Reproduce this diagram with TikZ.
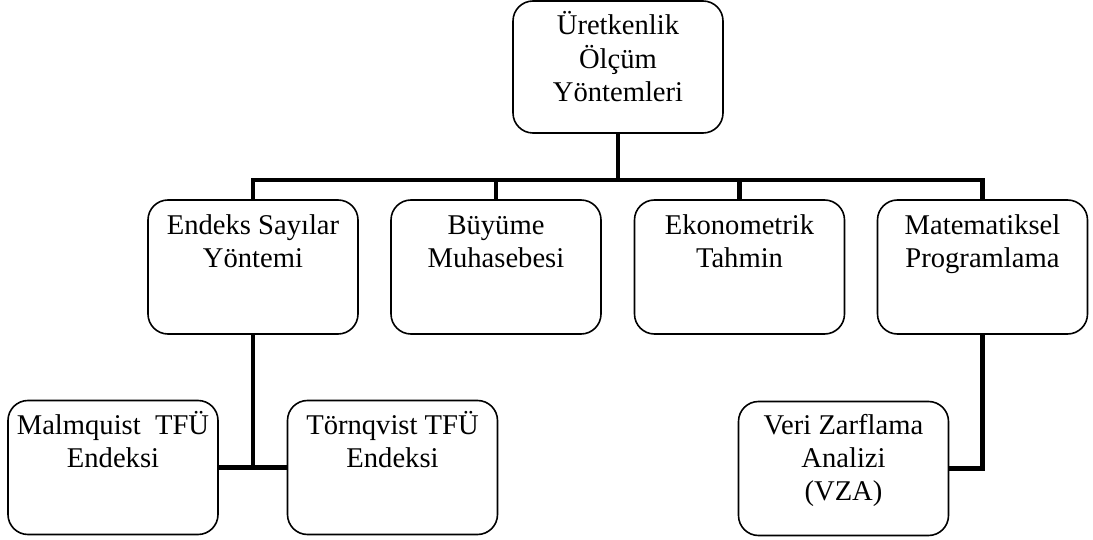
\documentclass[tikz,border=0pt]{standalone}
\usepackage{fontspec}
\setmainfont{Liberation Serif}
\begin{document}
\begin{tikzpicture}[x=1pt,y=-1pt,
  box/.style={draw=black, line width=1.6pt, rounded corners=20pt, minimum width=210pt, minimum height=134pt, inner sep=0pt},
  lbl/.style={anchor=north, inner sep=0pt, align=center, font=\fontsize{28.6}{33}\selectfont},
  conn/.style={draw=black, line width=4.7pt}]
\useasboundingbox (0,0) rectangle (1093,540);
% boxes
\node[box, minimum height=132pt] (top) at (618,67) {};
\node[box] (endeks) at (253,267) {};
\node[box] (buy) at (496,267) {};
\node[box] (eko) at (739.5,267) {};
\node[box] (mat) at (982.5,267) {};
\node[box] (malm) at (113,467.5) {};
\node[box] (torn) at (392.5,467.5) {};
\node[box] (vza) at (843.5,468.5) {};
% labels
\node[lbl] (ttop) at ([yshift=-11pt]top.north) {\strut Üretkenlik\\Ölçüm\\Yöntemleri};
\node[lbl] (tendeks) at ([yshift=-12pt]endeks.north) {\strut Endeks Sayılar\\Yöntemi};
\node[lbl] (tbuy) at ([yshift=-12pt]buy.north) {\strut Büyüme\\Muhasebesi};
\node[lbl] (teko) at ([yshift=-12pt]eko.north) {\strut Ekonometrik\\Tahmin};
\node[lbl] (tmat) at ([yshift=-12pt]mat.north) {\strut Matematiksel\\Programlama};
\node[lbl] (tmalm) at ([yshift=-11pt]malm.north) {\strut Malmquist\ \ TFÜ\\Endeksi};
\node[lbl] (ttorn) at ([yshift=-11pt]torn.north) {\strut Törnqvist TFÜ\\Endeksi};
\node[lbl] (tvza) at ([yshift=-10pt]vza.north) {\strut Veri Zarflama\\Analizi\\(VZA)};
% connectors
\coordinate (bus) at (618,180);
\draw[conn] (top.south) -- (top.south |- bus);
\draw[conn] (endeks.north) |- (mat.north |- bus) -- (mat.north);
\draw[conn] (buy.north) -- (buy.north |- bus);
\draw[conn] (eko.north) -- (eko.north |- bus);
\draw[conn] (endeks.south) -- (endeks.south |- malm.east);
\draw[conn] (malm.east) -- (torn.west);
\draw[conn] (mat.south) |- (vza.east);
\end{tikzpicture}
\end{document}
